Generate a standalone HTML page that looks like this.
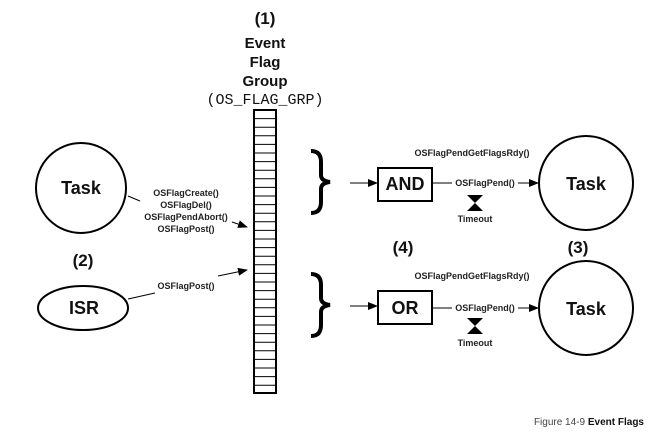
<!DOCTYPE html>
<html><head><style>body{margin:0;background:#fff}svg{display:block}</style></head><body>
<svg width="648" height="433" viewBox="0 0 648 433" xmlns="http://www.w3.org/2000/svg" font-family="Liberation Sans, sans-serif">
<defs><marker id="a" markerWidth="10" markerHeight="8" refX="9" refY="4" orient="auto" markerUnits="userSpaceOnUse"><path d="M0,0L10,4L0,8z" fill="#000"/></marker></defs>
<g font-weight="bold" text-anchor="middle" fill="#111">
<text x="265" y="24" font-size="17">(1)</text>
<text x="265" y="48" font-size="15">Event</text>
<text x="265" y="67" font-size="15">Flag</text>
<text x="265" y="86" font-size="15">Group</text>
<text x="265" y="104" font-size="15" font-family="Liberation Mono, monospace" font-weight="normal">(OS_FLAG_GRP)</text>
<text x="83" y="266" font-size="17">(2)</text>
<text x="403" y="253" font-size="17">(4)</text>
<text x="578" y="253" font-size="17">(3)</text>
</g>
<rect x="254" y="110" width="22" height="283" fill="#fff" stroke="#000" stroke-width="2"/>
<g stroke="#000" stroke-width="1">
<path d="M254 118.6H276M254 127.2H276M254 135.8H276M254 144.4H276M254 153H276M254 161.6H276M254 170.2H276M254 178.8H276M254 187.4H276M254 196H276M254 204.6H276M254 213.2H276M254 221.8H276M254 230.4H276M254 239H276M254 247.6H276M254 256.2H276M254 264.8H276M254 273.4H276M254 282H276M254 290.6H276M254 299.2H276M254 307.8H276M254 316.4H276M254 325H276M254 333.6H276M254 342.2H276M254 350.8H276M254 359.4H276M254 368H276M254 376.6H276M254 385.2H276"/>
</g>
<g fill="none" stroke="#000" stroke-width="2">
<circle cx="81" cy="188" r="45"/>
<ellipse cx="83" cy="308" rx="45" ry="22"/>
<circle cx="586" cy="183" r="47"/>
<circle cx="586" cy="308" r="47"/>
<rect x="378" y="168" width="54" height="33"/>
<rect x="378" y="291" width="54" height="33"/>
<path d="M311 151 Q321 151 321 162 L321 175 Q321 181 330 182 Q321 183 321 189 L321 202 Q321 213 311 213" stroke-width="4"/>
<path d="M311 274 Q321 274 321 285 L321 298 Q321 304 330 305 Q321 306 321 312 L321 325 Q321 336 311 336" stroke-width="4"/>
</g>
<g stroke="#000" stroke-width="1" fill="none">
<path d="M128 196L140 201"/>
<path d="M232 222L247 227" marker-end="url(#a)"/>
<path d="M128 299L155 293"/>
<path d="M218 276L247 270" marker-end="url(#a)"/>
<path d="M350 183H377" marker-end="url(#a)"/>
<path d="M350 306H377" marker-end="url(#a)"/>
<path d="M432 183H452"/><path d="M432 308H452"/>
<path d="M518 183H538" marker-end="url(#a)"/>
<path d="M518 308H538" marker-end="url(#a)"/>
</g>
<path d="M467 195H483L475 203L483 211H467L475 203z" fill="#000"/>
<path d="M467 318H483L475 326L483 334H467L475 326z" fill="#000"/>
<g font-size="18" font-weight="bold" text-anchor="middle" fill="#111">
<text x="81" y="194">Task</text>
<text x="84" y="314">ISR</text>
<text x="405" y="190">AND</text>
<text x="405" y="314">OR</text>
<text x="586" y="190">Task</text>
<text x="586" y="315">Task</text>
</g>
<g font-size="9" font-weight="bold" text-anchor="middle" fill="#222">
<text x="186" y="196">OSFlagCreate()</text>
<text x="186" y="208">OSFlagDel()</text>
<text x="186" y="220">OSFlagPendAbort()</text>
<text x="186" y="232">OSFlagPost()</text>
<text x="186" y="289">OSFlagPost()</text>
<text x="472" y="156">OSFlagPendGetFlagsRdy()</text>
<text x="485" y="186">OSFlagPend()</text>
<text x="475" y="222">Timeout</text>
<text x="472" y="279">OSFlagPendGetFlagsRdy()</text>
<text x="485" y="311">OSFlagPend()</text>
<text x="475" y="346">Timeout</text>
</g>
<text x="644" y="425" font-size="10" text-anchor="end" fill="#444">Figure 14-9 <tspan font-weight="bold" fill="#111">Event Flags</tspan></text>
</svg>
</body></html>
